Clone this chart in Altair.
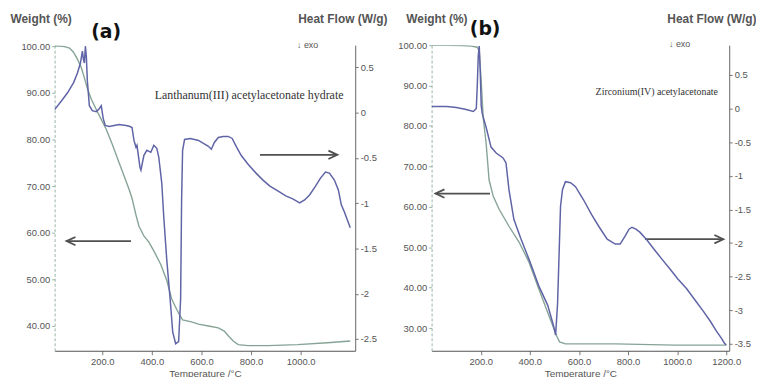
import altair as alt
import pandas as pd

# ---------------- Panel (a): Lanthanum(III) acetylacetonate hydrate ----------------
a_weight_temp = [8, 28, 48, 68, 84, 100, 116, 128, 140, 156, 176, 196, 216, 240, 268, 292, 308, 320,
                 336, 348, 368, 388, 408, 436, 460, 480, 500, 512, 524, 560, 588, 628, 668, 692, 708,
                 728, 748, 788, 868, 988, 1108, 1200]
a_weight_pct = [100, 100, 99.9, 99.6, 98.7, 97.2, 95.3, 93.2, 90.9, 88.6, 86.4, 84.3, 82.2, 79.0, 75.0,
                71.6, 69.3, 67.4, 63.8, 61.4, 59.3, 58.0, 56.1, 53.2, 49.8, 45.8, 43.6, 42.4, 41.3, 40.9,
                40.4, 40.0, 39.6, 38.9, 37.9, 36.8, 36.0, 35.8, 35.8, 36.0, 36.4, 36.8]
a_heat_temp = [8, 36, 60, 84, 100, 112, 120, 124, 128, 132, 136, 140, 148, 160, 176, 188, 196, 204, 212,
               228, 248, 268, 296, 312, 320, 328, 336, 340, 352, 356, 368, 380, 396, 408, 420, 428, 440,
               448, 460, 476, 484, 496, 508, 516, 520, 524, 532, 556, 588, 608, 628, 640, 652, 668, 688,
               708, 724, 740, 760, 788, 820, 848, 876, 908, 940, 968, 996, 1016, 1036, 1060, 1080, 1100,
               1116, 1136, 1152, 1164, 1176, 1188, 1200]
a_heat_flow = [0.033, 0.131, 0.219, 0.329, 0.438, 0.548, 0.679, 0.591, 0.548, 0.734, 0.613, 0.350, 0.077,
               0.022, 0.011, 0.044, 0.077, -0.066, -0.142, -0.153, -0.142, -0.131, -0.142, -0.153,
               -0.164, -0.307, -0.383, -0.361, -0.602, -0.635, -0.471, -0.416, -0.438, -0.361, -0.394,
               -0.493, -0.778, -1.150, -1.621, -2.136, -2.421, -2.552, -2.530, -2.059, -0.964, -0.416,
               -0.296, -0.285, -0.307, -0.340, -0.372, -0.405, -0.329, -0.274, -0.263, -0.263, -0.285,
               -0.372, -0.471, -0.570, -0.668, -0.745, -0.811, -0.865, -0.920, -0.953, -0.997, -0.964,
               -0.909, -0.811, -0.723, -0.657, -0.668, -0.745, -0.854, -1.019, -1.095, -1.183, -1.271]

# ---------------- Panel (b): Zirconium(IV) acetylacetonate ----------------
b_weight_temp = [0, 61, 121, 162, 186, 194, 202, 210, 222, 234, 251, 275, 315, 356, 396, 436, 477, 497,
                 509, 521, 545, 748, 990, 1200]
b_weight_pct = [100, 100, 99.9, 99.76, 99.5, 98.5, 91.2, 82.1, 75.8, 66.7, 62.6, 59.4, 55.2, 51.3, 46.4,
                39.8, 33.2, 30.0, 28.1, 26.6, 26.1, 26.1, 25.8, 25.8]
b_heat_temp = [0, 61, 101, 141, 170, 182, 186, 190, 194, 198, 202, 206, 222, 242, 263, 291, 303, 315, 335,
               364, 396, 436, 473, 497, 505, 513, 517, 525, 533, 545, 566, 586, 618, 651, 683, 715, 748,
               768, 788, 804, 816, 832, 848, 877, 905, 937, 970, 1002, 1038, 1071, 1107, 1135, 1160,
               1180, 1192, 1200]
b_heat_flow = [0.029, 0.029, 0.015, -0.015, -0.044, 0.0, 0.338, 0.779, 0.926, 0.559, 0.044, -0.074,
               -0.279, -0.574, -0.662, -0.735, -0.809, -1.206, -1.647, -1.941, -2.235, -2.632, -2.926,
               -3.235, -3.368, -2.897, -2.426, -1.456, -1.206, -1.088, -1.103, -1.162, -1.353, -1.574,
               -1.765, -1.941, -2.015, -2.015, -1.897, -1.794, -1.765, -1.794, -1.838, -1.956, -2.088,
               -2.235, -2.382, -2.529, -2.676, -2.838, -3.015, -3.162, -3.309, -3.412, -3.485, -3.515]

# ---------------- Axis ticks ----------------
a_x_ticks = [200, 400, 600, 800, 1000]
b_x_ticks = [200, 400, 600, 800, 1000, 1200]
a_w_ticks = [40, 50, 60, 70, 80, 90, 100]
b_w_ticks = [30, 40, 50, 60, 70, 80, 90, 100]
a_h_ticks = [0.5, 0, -0.5, -1, -1.5, -2, -2.5]
b_h_ticks = [0.5, 0, -0.5, -1, -1.5, -2, -2.5, -3, -3.5]

# ---------------- Annotations (data coordinates) ----------------
a_arrow_from = [836, 316]
a_arrow_to = [1148, 56]
a_arrow_w = [76.7, 58.2]
a_arrow_angle = [0, 180]
b_arrow_from = [238, 869]
b_arrow_to = [16, 1188]
b_arrow_w = [63.3, 52.0]
b_arrow_angle = [180, 0]

WEIGHT_COLOR = "#86a496"
HEAT_COLOR = "#5f64a6"
LABEL_FONT = "Liberation Sans Narrow, Liberation Sans, sans-serif"
GRAY = "#555555"


def panel(wt, ww, ht, hf, xdom, xticks, wdom, wticks, hdom, hticks, width, height,
          arr_from, arr_to, arr_w, arr_angle, tag, tag_t, tag_w,
          name, name_t, name_w, name_size, exo_t, exo_w, heat_title_x, weight_title_x):
    xs = alt.Scale(domain=xdom, nice=False, zero=False)
    ws = alt.Scale(domain=wdom, nice=False, zero=False)
    hs = alt.Scale(domain=hdom, nice=False, zero=False)

    xaxis = alt.Axis(
        values=xticks, format=".1f", title="Temperature /°C", grid=False,
        labelFont=LABEL_FONT, labelFontSize=9.5, labelColor=GRAY, labelPadding=2,
        tickSize=4, tickColor="#777", domainColor="#555", domainWidth=1.2,
        titleFont=LABEL_FONT, titleFontSize=10, titleFontWeight="normal", titleColor=GRAY,
        titlePadding=2)
    waxis = alt.Axis(
        values=wticks, format=".2f", title="Weight (%)", grid=False, orient="left",
        labelFont=LABEL_FONT, labelFontSize=9.5, labelColor=GRAY, labelPadding=2,
        tickSize=3, tickColor="#9ab5a8", domainColor="#9ab5a8", domainDash=[3, 2],
        titleAngle=0, titleX=weight_title_x, titleY=-27, titleAlign="left",
        titleBaseline="middle", titleFont="Liberation Sans", titleFontSize=12,
        titleFontWeight="bold", titleColor=GRAY)
    haxis = alt.Axis(
        values=hticks, labelExpr="'' + datum.value", title="Heat Flow (W/g)", grid=False,
        orient="right", labelFont=LABEL_FONT, labelFontSize=9.5, labelColor=GRAY,
        labelPadding=2, tickSize=3, tickColor="#777", domainColor="#666",
        titleAngle=0, titleX=heat_title_x, titleY=-27, titleAlign="right",
        titleBaseline="middle", titleFont="Liberation Sans", titleFontSize=12,
        titleFontWeight="bold", titleColor=GRAY)

    def X(field):
        return alt.X(field, scale=xs, axis=xaxis, title="Temperature /°C")

    def W(field):
        return alt.Y(field, scale=ws, axis=waxis, title="Weight (%)")

    wdf = pd.DataFrame({"t": wt, "w": ww})
    hdf = pd.DataFrame({"t": ht, "h": hf})
    adf = pd.DataFrame({"t0": arr_from, "t1": arr_to, "w": arr_w, "ang": arr_angle})

    weight = alt.Chart(wdf).mark_line(color=WEIGHT_COLOR, strokeWidth=1.4, clip=True).encode(
        x=X("t:Q"), y=W("w:Q"), order="t:Q")

    shafts = alt.Chart(adf).mark_rule(color="#505050", strokeWidth=1.8).encode(
        x=X("t0:Q"), x2="t1:Q", y=W("w:Q"))
    heads = alt.Chart(adf).mark_point(
        shape="M-3,-1.4L0,0L-3,1.4", size=36, filled=False, color="#505050", strokeWidth=1.8,
        opacity=1).encode(
        x=X("t1:Q"), y=W("w:Q"), angle=alt.Angle("ang:Q", scale=None))

    tdf = pd.DataFrame({"t": [tag_t], "w": [tag_w], "s": [tag]})
    tag_text = alt.Chart(tdf).mark_text(
        font="DejaVu Sans", fontSize=19, fontWeight="bold", color="#111", baseline="middle",
        align="center").encode(x=X("t:Q"), y=W("w:Q"), text="s:N")

    ndf = pd.DataFrame({"t": [name_t], "w": [name_w], "s": [name]})
    name_text = alt.Chart(ndf).mark_text(
        font="Liberation Serif", fontSize=name_size, color="#333", baseline="middle",
        align="center").encode(x=X("t:Q"), y=W("w:Q"), text="s:N")

    edf = pd.DataFrame({"t": [exo_t], "w": [exo_w], "s": ["↓ exo"]})
    exo_text = alt.Chart(edf).mark_text(
        font="Liberation Sans", fontSize=9, color="#555", baseline="middle",
        align="center").encode(x=X("t:Q"), y=W("w:Q"), text="s:N")

    heat = alt.Chart(hdf).mark_line(color=HEAT_COLOR, strokeWidth=1.5, clip=True).encode(
        x=X("t:Q"),
        y=alt.Y("h:Q", scale=hs, axis=haxis, title="Heat Flow (W/g)"),
        order="t:Q",
    )

    left = alt.layer(weight, shafts, heads, tag_text, name_text, exo_text)
    return alt.layer(left, heat).resolve_scale(y="independent").properties(
        width=width, height=height)


pa = panel(a_weight_temp, a_weight_pct, a_heat_temp, a_heat_flow,
           [8, 1220], a_x_ticks, [34.7, 100.2], a_w_ticks, [-2.63, 0.745], a_h_ticks, 303, 308,
           a_arrow_from, a_arrow_to, a_arrow_w, a_arrow_angle,
           "(a)", 216, 103.0,
           "Lanthanum(III) acetylacetonate hydrate", 792, 89.6, 12, 1028, 100.2, 32, -45)

pb = panel(b_weight_temp, b_weight_pct, b_heat_temp, b_heat_flow,
           [0, 1212], b_x_ticks, [24.4, 100.0], b_w_ticks, [-3.60, 0.94], b_h_ticks, 300, 308,
           b_arrow_from, b_arrow_to, b_arrow_w, b_arrow_angle,
           "(b)", 218, 104.0,
           "Zirconium(IV) acetylacetonate", 917, 88.3, 10, 1010, 100.2, 27, -26)

chart = alt.hconcat(pa, pb, spacing=77, bounds="flush").properties(
    padding={"left": 2, "top": 3, "right": 0, "bottom": 0},
    background="white",
).configure_view(stroke=None)

chart.save("out.html", embed_options={"renderer": "svg", "actions": False})
